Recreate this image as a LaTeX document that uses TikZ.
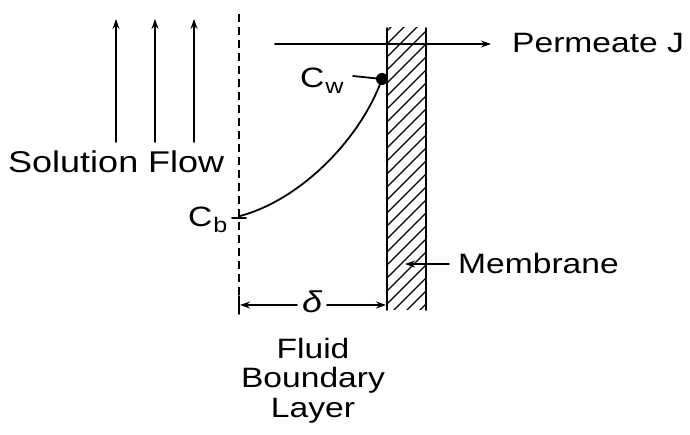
\documentclass[tikz,border=0pt]{standalone}
\usepackage{fontspec}
\setmainfont{Liberation Sans}[FakeStretch=1.2]
\usetikzlibrary{arrows.meta}
\begin{document}
\begin{tikzpicture}[x=1pt,y=-1pt,
  line/.style={line width=1.8pt,line cap=round},
  tip/.style={-{Stealth[length=10pt,width=7pt]}},
  lbl/.style={inner sep=0pt,font=\fontsize{28}{30}\selectfont},
]
\useasboundingbox (0,0) rectangle (690,435);
% flow arrows
\foreach \x/\n in {116/a,155/b,194/c}{
  \coordinate (f\n b) at (\x,142);
  \coordinate (f\n t) at (\x,19);
  \draw[line,tip] (f\n b) -- (f\n t);
}
\node[lbl,font=\fontsize{30}{32}\selectfont,anchor=base west] (sol) at (8,173) {Solution Flow};
% boundary (dashed)
\coordinate (dtop) at (239,14);
\coordinate (dbot) at (239,312);
\draw[line width=1.6pt,dash pattern=on 8pt off 5pt] (dtop) -- (dbot);
% membrane (open at top and bottom)
\node[minimum width=39pt,minimum height=282pt,inner sep=0pt,outer sep=0pt,anchor=north west] (mem) at (387,28) {};
\begin{scope}
  \clip (mem.south west) rectangle (mem.north east);
  \foreach \t in {-338,-325,...,60}{
    \draw[line width=1.4pt] (387+\t,330) -- (387+\t+330,0);
  }
\end{scope}
\draw[line] (mem.north west) -- (mem.south west);
\draw[line] (mem.north east) -- (mem.south east);
% permeate
\coordinate (ps) at (275,44);
\coordinate (pe) at (491,44);
\draw[line,tip] (ps) -- (pe);
\node[lbl,anchor=base west] (perm) at (512,53) {Permeate J};
% concentration profile
\coordinate (cb0) at (240,216);
\coordinate (cw0) at (382,79);
\draw[line] (cb0) .. controls (300,200) and (360,140) .. (cw0);
\fill (cw0) circle (6);
\node[lbl,anchor=base west] (cw) at (300,88) {C\kern1pt\raisebox{-6pt}{\fontsize{21}{22}\selectfont w}};
\coordinate (cwl) at (353,76);
\draw[line] (cwl) -- (cw0);
\node[lbl,anchor=base west] (cb) at (188,227) {C\kern1pt\raisebox{-6pt}{\fontsize{21}{22}\selectfont b}};
\coordinate (cbt1) at (232,218);
\coordinate (cbt2) at (246,218);
\draw[line] (cbt1) -- (cbt2);
% membrane label
\node[lbl,anchor=base west] (memlbl) at (458,274) {Membrane};
\coordinate (ml) at (449,264);
\coordinate (mtip) at (405,264);
\draw[line,tip] (ml) -- (mtip);
% dimension delta
\node[inner sep=0pt,font=\fontsize{30}{30}\selectfont\itshape] (delta) at (312,302) {δ};
\coordinate (dl) at (240,305);
\coordinate (dr) at (386,305);
\coordinate (dla) at (297,305);
\coordinate (dra) at (327,305);
\draw[line,tip] (dla) -- (dl);
\draw[line,tip] (dra) -- (dr);
\draw[line] (239,296) -- (239,314);
% fluid boundary layer
\node[lbl,align=center,font=\fontsize{28}{29.5}\selectfont,anchor=north] (fbl) at (313,338) {Fluid\\Boundary\\Layer};
\end{tikzpicture}
\end{document}
